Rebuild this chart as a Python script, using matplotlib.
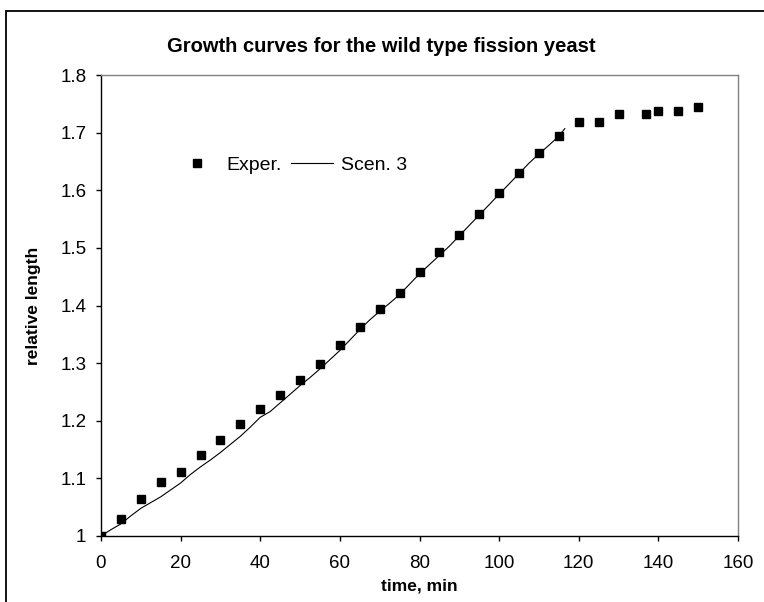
import matplotlib
matplotlib.use("Agg")
import matplotlib.pyplot as plt
from matplotlib.patches import Rectangle

plt.rcParams['font.family'] = ['Liberation Sans', 'DejaVu Sans']

# Datos experimentales (puntos)
t_exper = [0, 5, 10, 15, 20, 25, 30, 35, 40, 45, 50, 55, 60, 65, 70, 75, 80,
           85, 90, 95, 100, 105, 110, 115, 120, 125, 130, 137, 140, 145, 150]
len_exper = [1.000, 1.029, 1.064, 1.093, 1.111, 1.140, 1.166, 1.195, 1.220,
             1.245, 1.270, 1.298, 1.331, 1.363, 1.394, 1.421, 1.459, 1.492,
             1.523, 1.558, 1.596, 1.630, 1.665, 1.694, 1.719, 1.719, 1.732,
             1.732, 1.738, 1.738, 1.744]

# Escenario 3 (linea)
t_scen = [0, 2.5, 5, 7.5, 10, 12.5, 15, 17.5, 20, 22.5, 25, 27.5, 30, 32.5,
          35, 37.5, 40, 42.5, 45, 47.5, 50, 52.5, 55, 57.5, 60, 62.5, 65, 67.5,
          70, 72.5, 75, 77.5, 80, 82.5, 85, 87.5, 90, 92.5, 95, 97.5, 100,
          102.5, 105, 107.5, 110, 112.5, 115, 116.5]
len_scen = [1.000, 1.011, 1.021, 1.035, 1.048, 1.058, 1.068, 1.080, 1.092,
            1.107, 1.120, 1.132, 1.145, 1.159, 1.173, 1.189, 1.206, 1.216,
            1.231, 1.246, 1.261, 1.275, 1.290, 1.306, 1.322, 1.340, 1.358,
            1.375, 1.390, 1.404, 1.419, 1.437, 1.455, 1.471, 1.487, 1.503,
            1.521, 1.539, 1.557, 1.575, 1.593, 1.611, 1.629, 1.647, 1.663,
            1.678, 1.694, 1.707]

x_ticks = [0, 20, 40, 60, 80, 100, 120, 140, 160]
y_ticks = [1.0, 1.1, 1.2, 1.3, 1.4, 1.5, 1.6, 1.7, 1.8]
y_tick_labels = ["1", "1.1", "1.2", "1.3", "1.4", "1.5", "1.6", "1.7", "1.8"]

W, H = 764, 602
fig = plt.figure(figsize=(W / 100, H / 100), dpi=100)

# Marco exterior (recortado a la derecha y abajo)
fig.patches.append(Rectangle((6 / W, -0.05), 1.1, 1 - 11 / H + 0.05,
                             transform=fig.transFigure, fill=False,
                             edgecolor="black", linewidth=1.3))

left, right, top, bottom = 101, 738, 75, 536
ax = fig.add_axes([left / W, 1 - bottom / H, (right - left) / W, (bottom - top) / H])

ax.plot(t_exper, len_exper, linestyle="none", marker="s", markersize=5.2,
        color="black", label="Exper.")
ax.plot(t_scen, len_scen, color="black", linewidth=0.8, label="Scen. 3")

ax.set_xlim(0, 160)
ax.set_ylim(1.0, 1.8)
ax.set_xticks(x_ticks)
ax.set_yticks(y_ticks)
ax.set_yticklabels(y_tick_labels)
ax.tick_params(direction="out", length=3.6, width=1, labelsize=13.5)
ax.tick_params(axis="x", pad=10)
ax.tick_params(axis="y", pad=7)

for s in ["left", "bottom"]:
    ax.spines[s].set_color("black")
    ax.spines[s].set_linewidth(1.0)
for s in ["top", "right"]:
    ax.spines[s].set_color("#808080")
    ax.spines[s].set_linewidth(1.0)

ax.set_xlabel("time, min", fontsize=12.5, fontweight="bold", labelpad=5)
ax.set_ylabel("relative length", fontsize=12.5, fontweight="bold", labelpad=14)

fig.text(0.499, 1 - 46 / H, "Growth curves for the wild type fission yeast",
         ha="center", va="center", fontsize=14.5, fontweight="bold")

ax.legend(ncol=2, frameon=False, fontsize=14, loc="center left",
          bbox_to_anchor=(0.118, 0.805), borderpad=0, handlelength=2.16,
          handletextpad=0.41, columnspacing=0.5, borderaxespad=0)

fig.savefig("out.png", dpi=100)
